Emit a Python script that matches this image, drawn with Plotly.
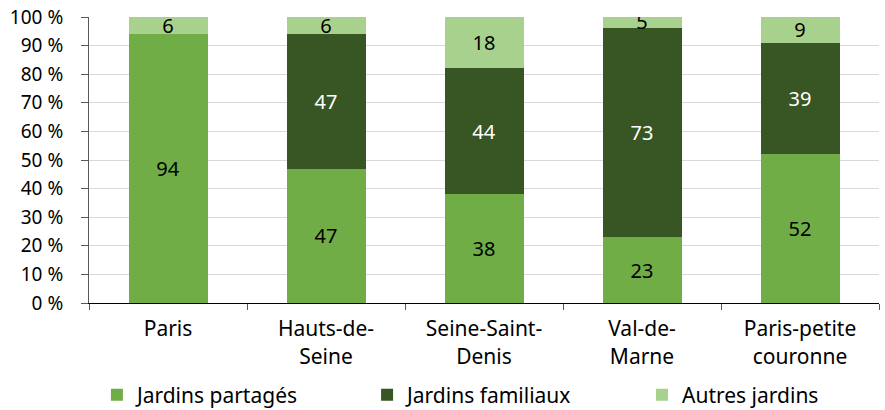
import plotly.graph_objects as go

# Part des types de jardins par territoire (en %)
territoires = ["Paris", "Hauts-de-<br>Seine", "Seine-Saint-<br>Denis", "Val-de-<br>Marne", "Paris-petite<br>couronne"]
partages = [94, 47, 38, 23, 52]
familiaux = [0, 47, 44, 73, 39]
autres = [6, 6, 18, 5, 9]

FONT = "Noto Sans"

series = [
    ("Jardins partagés", partages, "#70AD47", "#000000", "legend"),
    ("Jardins familiaux", familiaux, "#375623", "#FFFFFF", "legend2"),
    ("Autres jardins", autres, "#A9D18E", "#000000", "legend3"),
]

fig = go.Figure()
for name, vals, color, txtcolor, leg in series:
    fig.add_trace(go.Bar(
        x=territoires,
        y=vals,
        name=name,
        legend=leg,
        showlegend=True,
        marker=dict(color=color, line=dict(width=0)),
        text=[str(v) if v > 0 else "" for v in vals],
        textposition="inside",
        insidetextanchor="middle",
        textangle=0,
        textfont=dict(color=txtcolor, size=20, family=FONT),
        hoverinfo="skip",
    ))

legend_common = dict(
    orientation="h",
    xanchor="left",
    y=-0.25, yanchor="top",
    font=dict(family=FONT, size=21, color="#000000"),
    itemwidth=30,
    bgcolor="rgba(0,0,0,0)",
)

fig.update_layout(
    barmode="stack",
    bargap=0.5,
    width=885,
    height=410,
    showlegend=True,
    margin=dict(l=89, r=6, t=17, b=107, autoexpand=False),
    plot_bgcolor="white",
    paper_bgcolor="white",
    uniformtext=dict(minsize=20, mode="show"),
    font=dict(family=FONT, size=19, color="#000000"),
    legend=dict(x=0.010, **legend_common),
    legend2=dict(x=0.352, **legend_common),
    legend3=dict(x=0.700, **legend_common),
    xaxis=dict(
        showline=True,
        linecolor="#000000",
        linewidth=1,
        ticks="outside",
        tickson="boundaries",
        ticklen=6,
        tickcolor="#595959",
        tickfont=dict(size=21, family=FONT),
        ticklabelstandoff=7,
        fixedrange=True,
    ),
    yaxis=dict(
        range=[0, 100],
        dtick=10,
        ticksuffix=" %",
        showline=True,
        linecolor="#595959",
        linewidth=1,
        ticks="outside",
        ticklen=7,
        tickcolor="#595959",
        showgrid=True,
        gridcolor="#D9D9D9",
        gridwidth=1,
        tickfont=dict(size=19, family=FONT),
        ticklabelstandoff=14,
        fixedrange=True,
    ),
)

fig.write_html("out.html")
